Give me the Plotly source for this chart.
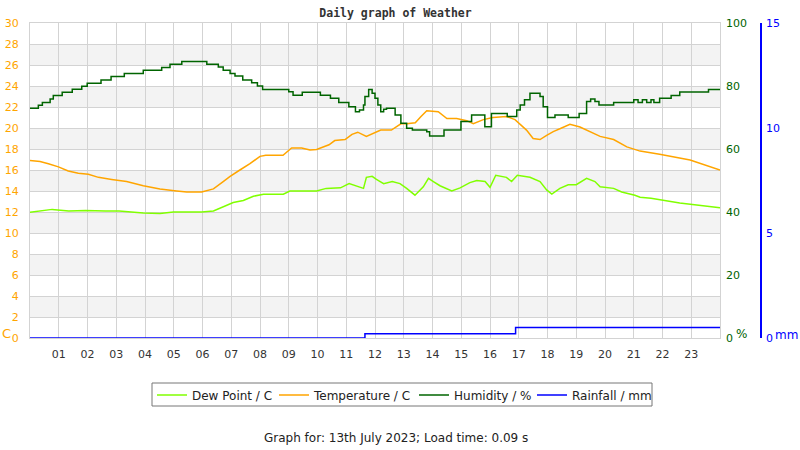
import plotly.graph_objects as go

# readings for 13th July 2023 (hours since midnight)
temp_hours = [0, 0.35, 0.64, 0.99, 1.33, 1.68, 2.03, 2.38, 2.84, 3.36, 3.94, 4.52, 5.1, 5.45,
              5.97, 6.38, 6.72, 6.96, 7.3, 7.65, 8.0, 8.2, 8.8, 9.1, 9.45, 9.74, 9.97, 10.4,
              10.6, 10.96, 11.2, 11.4, 11.7, 12.0, 12.2, 12.57, 12.9, 13.1, 13.4, 13.6, 13.8,
              14.2, 14.5, 14.84, 15.19, 15.42, 15.77, 16.1, 16.57, 16.87, 17.04, 17.27, 17.5,
              17.74, 17.97, 18.2, 18.49, 18.78, 19.13, 19.48, 19.83, 20.3, 20.76, 21.22, 21.9,
              22.96, 24]
temperature = [16.9, 16.8, 16.6, 16.3, 15.9, 15.7, 15.6, 15.3, 15.1, 14.9, 14.5, 14.2, 14.0, 13.9,
               13.9, 14.2, 14.9, 15.4, 16.0, 16.6, 17.3, 17.4, 17.4, 18.1, 18.1, 17.9, 17.95, 18.4,
               18.8, 18.9, 19.4, 19.6, 19.2, 19.6, 19.8, 19.8, 20.4, 20.4, 20.5, 21.1, 21.65,
               21.55, 20.9, 20.9, 20.7, 20.4, 20.8, 21.0, 21.1, 20.8, 20.4, 19.8, 19.0,
               18.9, 19.3, 19.65, 20.0, 20.35, 20.1, 19.65, 19.2, 18.9, 18.2, 17.8, 17.5,
               16.95, 16.0]

dew_hours = [0, 0.77, 1.35, 1.93, 2.62, 3.1, 3.94, 4.52, 4.99, 5.97, 6.38, 6.72, 7.07, 7.42, 7.77,
             8.12, 8.81, 9.04, 9.97, 10.3, 10.8, 11.1, 11.4, 11.6, 11.7, 11.9, 12.05, 12.3, 12.6,
             12.87, 13.1, 13.39, 13.68, 13.86, 14.03, 14.26, 14.67, 14.96, 15.3, 15.54, 15.83,
             16.0, 16.2, 16.57, 16.75, 16.95, 17.39, 17.74, 17.97, 18.15, 18.43, 18.72, 19.0,
             19.36, 19.65, 19.83, 20.3, 20.58, 21.04, 21.22, 21.6, 22.6, 24]
dew_point = [11.97, 12.25, 12.1, 12.15, 12.1, 12.1, 11.9, 11.85, 12.0, 12.0, 12.1, 12.5, 12.9, 13.1,
             13.5, 13.7, 13.7, 14.0, 14.0, 14.25, 14.3, 14.7, 14.4, 14.25, 15.3, 15.4, 15.1, 14.7,
             14.9, 14.7, 14.25, 13.6, 14.4, 15.2, 14.9, 14.5, 14.0, 14.3, 14.8, 15.0, 14.9,
             14.35, 15.5, 15.3, 14.9, 15.5, 15.3, 14.9, 14.1, 13.7, 14.25, 14.6, 14.6,
             15.2, 14.9, 14.4, 14.25, 13.9, 13.6, 13.4, 13.3, 12.86, 12.4]

hum_hours = [0, 0.29, 0.43, 0.7, 0.81, 1.12, 1.47, 1.8, 1.99, 2.47, 2.82, 3.28, 3.94, 4.58, 4.87,
             5.28, 6.15, 6.55, 6.72, 6.96, 7.13, 7.4, 7.71, 7.91, 8.09, 9.0, 9.15, 9.47, 10.1,
             10.45, 10.74, 11.09, 11.32, 11.46, 11.6, 11.65, 11.78, 11.9, 12.0, 12.1, 12.2, 12.3,
             12.4, 12.6, 12.7, 12.9, 13.1, 13.3, 13.8, 13.9, 14.4, 14.99, 15.36, 15.82, 16.05,
             16.6, 16.93, 17.05, 17.2, 17.39, 17.74, 17.85, 18.0, 18.26, 18.72, 19.1, 19.36,
             19.5, 19.65, 19.79, 20.3, 21.0, 21.15, 21.3, 21.45, 21.6, 21.7, 21.9, 22.3, 22.6,
             23.6, 24]
humidity = [72.9, 73.9, 74.8, 75.9, 77.0, 78.0, 79.0, 79.9, 80.9, 81.9, 83.0, 84.0, 85.0, 85.9, 86.9,
            87.8, 86.9, 86.0, 85.0, 84.0, 83.2, 81.9, 81.0, 80.0, 78.9, 78.2, 77.1, 78.0, 77.1,
            76.1, 74.8, 73.4, 71.8, 72.4, 74.0, 76.7, 78.9, 77.7, 76.1, 74.0, 71.8, 72.6,
            72.9, 72.9, 70.8, 68.2, 66.6, 66.0, 65.5, 64.1, 66.0, 68.7, 70.8, 67.1, 71.3,
            70.3, 72.4, 74.0, 75.6, 77.7, 76.7, 73.4, 70.0, 70.8, 70.0, 71.3, 75.1,
            75.9, 75.1, 74.0, 74.8, 75.6, 74.8, 75.6, 74.8, 75.6, 74.8, 76.1, 77.0, 78.1,
            78.9, 78.9]

rain_hours = [0, 11.65, 16.89, 24]
rainfall = [0, 0.2, 0.5, 0.5]

hour_labels = ['%02d' % h for h in range(1, 24)]

ORANGE = '#FFA500'
DEW = '#80FF00'
HUM = '#006400'
RAIN = '#0000FF'
GRID = '#d3d3d3'
FONT = 'DejaVu Sans'

plot_w = 731   # paper width in px (plot area + rain axis strip)
plot_h = 315
x_dom = 690 / plot_w


def px(x):
    return (x - 30) / plot_w


def py(y):
    return (338 - y) / plot_h


fig = go.Figure()
fig.add_trace(go.Scatter(x=dew_hours, y=dew_point, name='Dew Point / C', mode='lines',
                         legend='legend', line=dict(color=DEW, width=1.5)))
fig.add_trace(go.Scatter(x=temp_hours, y=temperature, name='Temperature / C', mode='lines',
                         legend='legend2', line=dict(color=ORANGE, width=1.5)))
fig.add_trace(go.Scatter(x=hum_hours, y=humidity, name='Humidity / %', mode='lines', yaxis='y2',
                         legend='legend3', line=dict(color=HUM, width=1.5, shape='hv')))
fig.add_trace(go.Scatter(x=rain_hours, y=rainfall, name='Rainfall / mm', mode='lines', yaxis='y3',
                         legend='legend4', line=dict(color=RAIN, width=1.5, shape='hv')))

# alternating grey bands on the temperature scale
shapes = []
for lo in range(2, 30, 4):
    shapes.append(dict(type='rect', xref='x domain', x0=0, x1=1, yref='y', y0=lo, y1=lo + 2,
                       fillcolor='#f3f3f3', line_width=0, layer='below'))
# frame round the legend entries
shapes.append(dict(type='rect', xref='paper', yref='paper', x0=px(152), x1=px(652),
                   y0=py(406), y1=py(383), line=dict(color='#777', width=1)))


def leg(text_x):
    return dict(orientation='h', x=px(text_x - 42), xanchor='left', y=py(395), yanchor='middle',
                borderwidth=0, bgcolor='rgba(0,0,0,0)', font=dict(size=12, color='#222'),
                itemwidth=30)


fig.update_layout(
    width=800, height=450,
    margin=dict(l=30, r=39, t=23, b=112, autoexpand=False),
    paper_bgcolor='white', plot_bgcolor='white',
    font=dict(family=FONT, size=11, color='#333'),
    shapes=shapes,
    showlegend=True,
    legend=leg(194), legend2=leg(316), legend3=leg(456), legend4=leg(574),
    xaxis=dict(domain=[0, x_dom], range=[0, 24], tickvals=list(range(1, 24)), ticktext=hour_labels,
               showgrid=True, gridcolor=GRID, gridwidth=1, zeroline=False, automargin=False,
               showline=True, linecolor=GRID, mirror=True, ticks='', ticklabelstandoff=6,
               tickfont=dict(size=11, color='#333')),
    yaxis=dict(range=[0, 30], tickvals=list(range(0, 31, 2)), showgrid=True, gridcolor=GRID,
               zeroline=False, showline=True, linecolor=GRID, mirror=True, ticks='',
               automargin=False, ticklabelstandoff=8, tickfont=dict(size=11, color=ORANGE)),
    yaxis2=dict(range=[0, 100], tickvals=list(range(0, 101, 20)), overlaying='y', side='right',
                anchor='x', showgrid=False, zeroline=False, showline=False, ticks='',
                automargin=False, ticklabelstandoff=5, tickfont=dict(size=11, color=HUM)),
    yaxis3=dict(range=[0, 15], tickvals=[0, 5, 10, 15], overlaying='y', side='right',
                anchor='free', position=1, showgrid=False, zeroline=False, showline=True,
                linecolor=RAIN, linewidth=1.5, ticks='', ticklabelstandoff=2, automargin=False,
                tickfont=dict(size=11, color=RAIN)),
    title=dict(text='<b>Daily graph of Weather</b>', x=0.5, xref='paper', y=1 - 13 / 450,
               yanchor='middle', font=dict(family='DejaVu Sans Mono', size=11.5, color='#333')),
    annotations=[
        dict(text='C', xref='paper', yref='paper', x=px(0), y=py(333), xanchor='left',
             yanchor='middle', showarrow=False, font=dict(size=13, color=ORANGE)),
        dict(text='%', xref='paper', yref='paper', x=px(734), y=py(334),
             xanchor='left', yanchor='middle', showarrow=False, font=dict(size=12, color=HUM)),
        dict(text='mm', xref='paper', yref='paper', x=px(773), y=py(335),
             xanchor='left', yanchor='middle', showarrow=False, font=dict(size=12, color=RAIN)),
        dict(text='Graph for: 13th July 2023; Load time: 0.09 s', xref='paper', yref='paper',
             x=px(396), y=py(438), xanchor='center', yanchor='middle',
             showarrow=False, font=dict(size=12, color='#222')),
    ],
)

# drop the browser's default page margin so the figure sits at the window origin
fig.write_html('out.html', config={'displayModeBar': False},
               post_script="document.body.style.margin='0';")
